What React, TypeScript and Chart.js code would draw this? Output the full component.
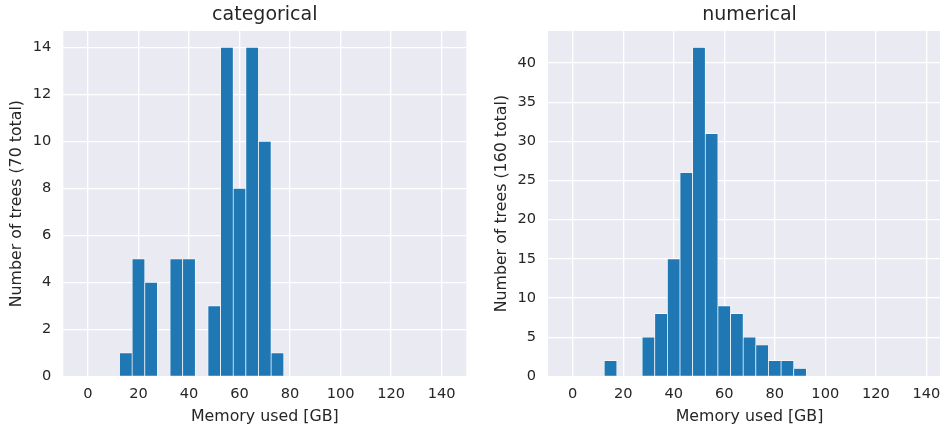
import React, { useEffect, useRef } from "react";
import { Chart, registerables } from "chart.js";

Chart.register(...registerables);

const binCenters = [0, 5, 10, 15, 20, 25, 30, 35, 40, 45, 50, 55, 60, 65, 70, 75, 80, 85, 90, 95, 100, 105, 110, 115, 120, 125, 130, 135, 140];
const categoricalCounts = [0, 0, 0, 1, 5, 4, 0, 5, 5, 0, 3, 14, 8, 14, 10, 1, 0, 0, 0, 0, 0, 0, 0, 0, 0, 0, 0, 0, 0];
const numericalCounts = [0, 0, 0, 2, 0, 0, 5, 8, 15, 26, 42, 31, 9, 8, 5, 4, 2, 2, 1, 0, 0, 0, 0, 0, 0, 0, 0, 0, 0];
const xTicks = [0, 20, 40, 60, 80, 100, 120, 140];
const leftYTicks = [0, 2, 4, 6, 8, 10, 12, 14];
const rightYTicks = [0, 5, 10, 15, 20, 25, 30, 35, 40];

const FONT = "'DejaVu Sans', sans-serif";
const TEXT = "#262626";
const BG = "#EAEAF2";
const BAR = "#1f77b4";

type Cfg = {
  title: string;
  yTitle: string;
  counts: number[];
  yTicks: number[];
  yMax: number;
  axisWidth: number;
  rightPad: number;
  yTitlePad: number;
};

function makeChart(canvas: HTMLCanvasElement, cfg: Cfg) {
  const bgPlugin = {
    id: "bg" + cfg.title,
    beforeDraw(chart: any) {
      const { ctx, chartArea } = chart;
      ctx.save();
      ctx.fillStyle = BG;
      ctx.fillRect(chartArea.left, chartArea.top, chartArea.right - chartArea.left, chartArea.bottom - chartArea.top);
      ctx.restore();
    },
    afterDraw(chart: any) {
      const { ctx, chartArea } = chart;
      ctx.save();
      ctx.fillStyle = TEXT;
      ctx.font = "19px " + FONT;
      ctx.textAlign = "center";
      ctx.textBaseline = "middle";
      ctx.fillText(cfg.title, (chartArea.left + chartArea.right) / 2, 15);
      ctx.restore();
    },
  };
  return new Chart(canvas, {
    type: "bar",
    data: {
      datasets: [
        {
          data: binCenters.map((x, i) => ({ x, y: cfg.counts[i] === 0 ? null : cfg.counts[i] })) as any,
          backgroundColor: BAR,
          borderColor: "#ffffff",
          borderWidth: 0.7,
          borderSkipped: "bottom",
          barPercentage: 1,
          categoryPercentage: 1,
        },
      ],
    },
    options: {
      animation: false,
      responsive: false,
      events: [],
      layout: { padding: { top: 31, left: 0, right: cfg.rightPad, bottom: 0 } },
      plugins: { legend: { display: false }, tooltip: { enabled: false }, title: { display: false } },
      scales: {
        x: {
          type: "linear",
          min: -9.75,
          max: 149.75,
          offset: false,
          afterBuildTicks: (s: any) => {
            s.ticks = xTicks.map((v) => ({ value: v }));
          },
          afterFit: (s: any) => {
            s.height = 55.7;
          },
          grid: { color: "#ffffff", lineWidth: 1.3, drawTicks: false, offset: false },
          border: { display: false },
          ticks: { color: TEXT, font: { family: FONT, size: 14.6 }, padding: 9, maxRotation: 0, autoSkip: false },
          title: { display: true, text: "Memory used [GB]", color: TEXT, font: { family: FONT, size: 15.8 }, padding: { top: 0, bottom: 6 } },
        },
        y: {
          type: "linear",
          min: 0,
          max: cfg.yMax,
          afterBuildTicks: (s: any) => {
            s.ticks = cfg.yTicks.map((v) => ({ value: v }));
          },
          afterFit: (s: any) => {
            s.width = cfg.axisWidth;
          },
          grid: { color: "#ffffff", lineWidth: 1.3, drawTicks: false },
          border: { display: false },
          ticks: { color: TEXT, font: { family: FONT, size: 14.6 }, padding: 12 },
          title: { display: true, text: cfg.yTitle, color: TEXT, font: { family: FONT, size: 15.8 }, padding: { top: cfg.yTitlePad, bottom: 0 } },
        },
      },
    },
    plugins: [bgPlugin],
  });
}

export default function App() {
  const leftRef = useRef<HTMLCanvasElement>(null);
  const rightRef = useRef<HTMLCanvasElement>(null);
  useEffect(() => {
    const a = makeChart(leftRef.current!, {
      title: "categorical",
      yTitle: "Number of trees (70 total)",
      counts: categoricalCounts,
      yTicks: leftYTicks,
      yMax: 14.7,
      axisWidth: 63.3,
      rightPad: 13.7,
      yTitlePad: 7.5,
    });
    const b = makeChart(rightRef.current!, {
      title: "numerical",
      yTitle: "Number of trees (160 total)",
      counts: numericalCounts,
      yTicks: rightYTicks,
      yMax: 44.1,
      axisWidth: 68,
      rightPad: 9,
      yTitlePad: 12.5,
    });
    return () => {
      a.destroy();
      b.destroy();
    };
  }, []);
  return (
    <div style={{ position: "fixed", left: 0, top: 0, width: 940, height: 432, overflow: "hidden", background: "#fff" }}>
      <canvas ref={leftRef} width={480} height={432} style={{ position: "absolute", left: 0, top: 0, width: 480, height: 432 }} />
      <canvas ref={rightRef} width={480} height={432} style={{ position: "absolute", left: 480, top: 0, width: 480, height: 432 }} />
    </div>
  );
}
